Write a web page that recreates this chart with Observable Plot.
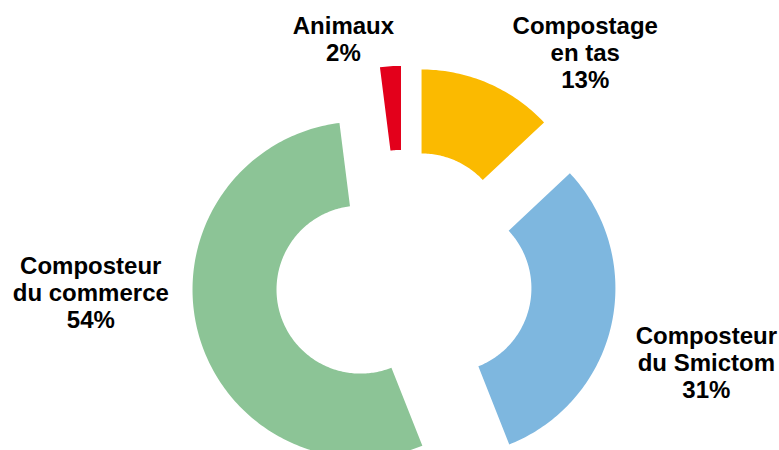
<!DOCTYPE html>
<html>
<head>
<meta charset="utf-8">
<script src="https://cdn.jsdelivr.net/npm/d3@7"></script>
<script src="https://cdn.jsdelivr.net/npm/@observablehq/plot@0.6"></script>
<style>
  html, body { margin: 0; padding: 0; background: #fff; }
  #chart svg { display: block; }
</style>
</head>
<body>
<div id="chart"></div>
<script>
// ---- Data ----
const categories = ["Compostage en tas", "Composteur du Smictom", "Composteur du commerce", "Animaux"];
const labelLines = ["Compostage\nen tas", "Composteur\ndu Smictom", "Composteur\ndu commerce", "Animaux"];
const values = [13, 31, 54, 2];
const colors = ["#FBBA00", "#7EB7DF", "#8CC496", "#E3001B"];

// ---- Layout ----
const W = 779, H = 450;
const R = 168;            // outer radius in px (1 data unit)
const cx = 403.3, cy = 278; // pie centre in px
const innerRatio = 0.5;
const explode = 0.266;
// label nudges (px) from each slice's outer mid point
const labelDx = [97, 95, -107, -47];
const labelDy = [-31, 37, -39, -27];

const total = d3.sum(values);
const arcs = [];
const anchors = [];
let cum = 0;
values.forEach((v, i) => {
  const a0 = cum / total * 2 * Math.PI;
  cum += v;
  const a1 = cum / total * 2 * Math.PI;
  const mid = (a0 + a1) / 2;
  const ox = explode * Math.sin(mid), oy = explode * Math.cos(mid);
  const n = Math.max(8, Math.ceil((a1 - a0) / (Math.PI / 180)));
  for (let k = 0; k <= n; k++) {
    const t = a0 + (a1 - a0) * k / n;
    arcs.push({name: categories[i], x: ox + Math.sin(t), y: oy + Math.cos(t)});
  }
  for (let k = n; k >= 0; k--) {
    const t = a0 + (a1 - a0) * k / n;
    arcs.push({name: categories[i], x: ox + innerRatio * Math.sin(t), y: oy + innerRatio * Math.cos(t)});
  }
  anchors.push({
    name: categories[i],
    x: ox + Math.sin(mid),
    y: oy + Math.cos(mid),
    text: labelLines[i] + "\n" + v + "%"
  });
});

const textMarks = anchors.map((a, i) =>
  Plot.text([a], {
    x: "x", y: "y", text: "text",
    dx: labelDx[i], dy: labelDy[i],
    fontSize: 24, fontWeight: "bold", fill: "#000",
    lineHeight: 1.125, textAnchor: "middle"
  })
);

const chart = Plot.plot({
  width: W,
  height: H,
  margin: 0,
  style: {fontFamily: "'Liberation Sans', Arial, sans-serif", background: "#fff"},
  x: {domain: [-cx / R, (W - cx) / R], axis: null},
  y: {domain: [(cy - H) / R, cy / R], axis: null},
  color: {domain: categories, range: colors},
  marks: [
    Plot.line(arcs, {x: "x", y: "y", z: "name", fill: "name", stroke: "none", curve: "linear"}),
    ...textMarks
  ]
});
document.getElementById("chart").appendChild(chart);
</script>
</body>
</html>
